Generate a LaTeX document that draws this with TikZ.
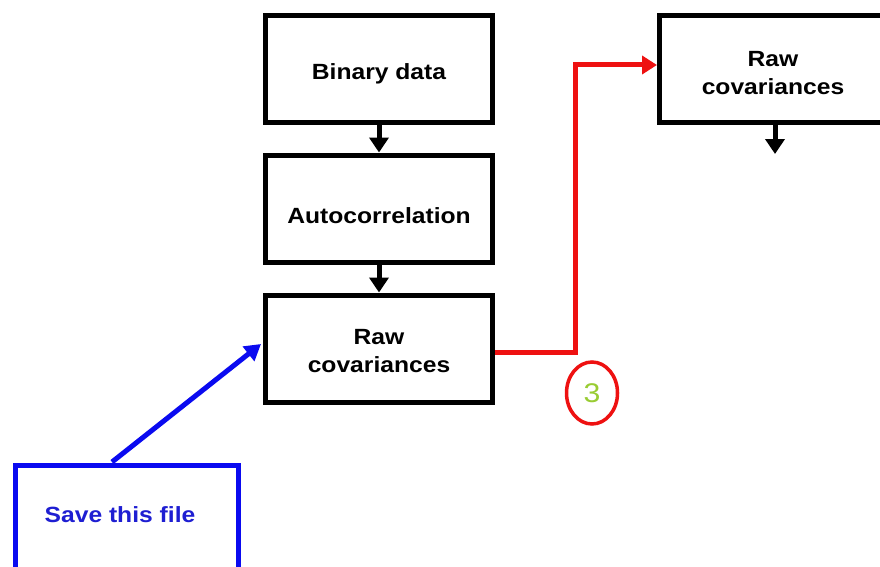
\documentclass[tikz,border=0pt]{standalone}
\usepackage{fontspec}
\setmainfont[FakeStretch=1.12]{Liberation Sans}
\usetikzlibrary{arrows.meta,shapes.geometric}
\definecolor{myred}{HTML}{EE1111}
\definecolor{myblue}{HTML}{0A0AF0}
\definecolor{textblue}{HTML}{1E1ED2}
\definecolor{mygreen}{HTML}{99CC33}
\tikzset{
  blackbox/.style={draw=black, line width=5pt, fill=white, minimum width=227pt, minimum height=107pt,
    inner sep=0pt},
  boxtext/.style={align=center, font=\fontsize{22pt}{28pt}\selectfont\bfseries, inner sep=0pt},
  flowarrow/.style={line width=5pt, -{Triangle[width=19pt,length=15pt]}},
  redline/.style={draw=myred, line width=5pt},
  bluebox/.style={draw=myblue, line width=5pt, minimum width=223pt, minimum height=140pt,
    inner sep=0pt}
}
\begin{document}
\begin{tikzpicture}[x=1pt,y=-1pt]
\useasboundingbox (0,0) rectangle (880,567);
\clip (0,0) rectangle (880,567);
\fill[white] (0,0) rectangle (880,567);
\node[blackbox] (bin) at (379,69) {};
\node[blackbox] (auto) at (379,208.5) {};
\node[blackbox] (raw) at (379,348.5) {};
\node[blackbox] (raw2) at (773,69) {};
\node[boxtext] (bintext) at ([yshift=-5pt]bin.center) {Binary data};
\node[boxtext] (autotext) at ([yshift=-7pt]auto.center) {Autocorrelation};
\node[boxtext] (rawtext) at ([yshift=-3pt]raw.center) {Raw\\covariances};
\node[boxtext] (raw2text) at ([yshift=-4pt]raw2.center) {Raw\\covariances};
\coordinate (down2) at (775,154);
\draw[flowarrow] (bin.south) -- (auto.north);
\draw[flowarrow] (auto.south) -- (raw.north);
\draw[flowarrow] (raw2.south -| down2) -- (down2);
% red connector
\coordinate (rc) at (575,352);
\coordinate (rt) at (575,65);
\draw[redline] (rc) -- ++(0,2.5);
\draw[redline, -{Triangle[width=18pt,length=15pt]}, line join=miter] (raw.east |- rc) -- (rc) -- (rt) -- (raw2.west |- rt);
\node[draw=myred, line width=3.5pt, ellipse, minimum width=51pt, minimum height=62pt, inner sep=0pt,
  text=mygreen, font=\fontsize{27pt}{27pt}\selectfont] (three) at (592,393) {3};
% blue box
\node[bluebox, anchor=north west] (save) at (12.5,462.5) {};
\node[text=textblue, font=\fontsize{22pt}{26pt}\selectfont\bfseries] (savetext) at (120,515) {Save this file};
\coordinate (bstart) at (112,462);
\coordinate (bend) at (261,344);
\draw[myblue, line width=5pt, -{Triangle[width=18pt,length=16pt]}] (bstart) -- (bend);
\end{tikzpicture}
\end{document}
